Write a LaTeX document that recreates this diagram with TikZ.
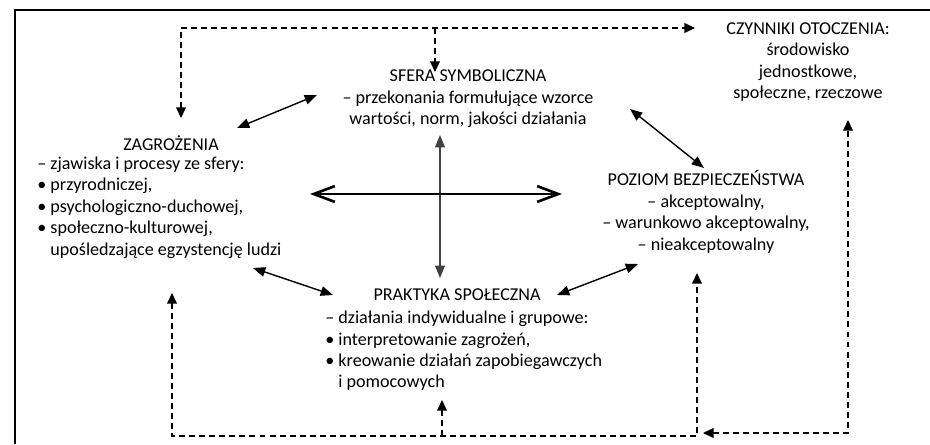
\documentclass[tikz,border=0pt]{standalone}
\usepackage{fontspec}
\setmainfont{Carlito}
\usetikzlibrary{arrows.meta,positioning}
\tikzset{%
  txt/.style={inner sep=0pt,font=\fontsize{10.3}{12.2}\selectfont,align=#1},
  txt/.default=center,
  dashlink/.style={line width=0.8pt,dash pattern=on 3.4pt off 2.3pt,
    -{Triangle[length=6pt,width=5.5pt]}},
  link/.style={line width=0.8pt,
    {Triangle[length=7pt,width=5.5pt]}-{Triangle[length=7pt,width=5.5pt]}},
  crossarrow/.style={line width=1.5pt,
    {Straight Barb[length=12pt,width=9pt]}-{Straight Barb[length=12pt,width=9pt]}}
}
\definecolor{c0}{rgb}{0.25,0.25,0.25}
\newcommand\bul{\textbullet\ }
\newcommand\bulskip{\hphantom{\textbullet\ }}
\begin{document}
\begin{tikzpicture}[x=0.02cm,y=-0.02cm]
  \useasboundingbox (0,0) rectangle (930,444);
  % Frame
  \draw[line width=1.7pt] (15,444) -- (15,10) -- (930,10);
  % Text blocks
  \node[txt] (sfera) at (468,99) {SFERA SYMBOLICZNA\\
    – przekonania formułujące wzorce\\
    wartości, norm, jakości działania};
  \node[txt] (czyn) at (808,62) {CZYNNIKI OTOCZENIA:\\
    środowisko\\
    jednostkowe,\\
    społeczne, rzeczowe};
  \node[txt] (poziom) at (706,212) {POZIOM BEZPIECZEŃSTWA\\
    – akceptowalny,\\
    – warunkowo akceptowalny,\\
    – nieakceptowalny};
  \node[txt] (zagT) at (171,143) {ZAGROŻENIA};
  \node[txt=left,anchor=west] (zagB) at (37,207.5) {– zjawiska i procesy ze sfery:\\
    \bul przyrodniczej,\\
    \bul psychologiczno-duchowej,\\
    \bul społeczno-kulturowej,\\
    \bulskip upośledzające egzystencję ludzi};
  \node[txt] (prakT) at (457,295) {PRAKTYKA SPOŁECZNA};
  \node[txt=left,anchor=west] (prakB) at (325,351) {– działania indywidualne i grupowe:\\
    \bul interpretowanie zagrożeń,\\
    \bul kreowanie działań zapobiegawczych\\
    \bulskip i pomocowych};
  % Ends of the connectors
  \coordinate (t0) at (181,118);
  \coordinate (t1) at (181,28);
  \coordinate (t2) at (435,28);
  \coordinate (t3) at (435,72);
  \coordinate (t4) at (695,28);
  \coordinate (l0) at (172,293);
  \coordinate (l1) at (172,436);
  \coordinate (l2) at (442,436);
  \coordinate (l3) at (442,400);
  \coordinate (l4) at (697,436);
  \coordinate (l5) at (697,273);
  \coordinate (r0) at (703,433);
  \coordinate (r1) at (848,433);
  \coordinate (r2) at (848,120);
  \coordinate (zs0) at (237,128);
  \coordinate (zs1) at (317,95);
  \coordinate (sp0) at (630,109);
  \coordinate (sp1) at (704,168);
  \coordinate (zp0) at (253,268);
  \coordinate (zp1) at (333,295);
  \coordinate (pp0) at (557,295);
  \coordinate (pp1) at (638,264);
  \coordinate (v0) at (440,135);
  \coordinate (v1) at (440,278);
  \coordinate (h0) at (310,194);
  \coordinate (h1) at (562,194);
  % Dashed loops
  \draw[dashlink,{Triangle[length=6pt,width=5.5pt]}-{Triangle[length=6pt,width=5.5pt]}]
    (t0) -- (t1) -- (t4);
  \draw[dashlink] (t2) -- (t3);
  \draw[dashlink,{Triangle[length=6pt,width=5.5pt]}-{Triangle[length=6pt,width=5.5pt]}]
    (l0) -- (l1) -- (l4) -- (l5);
  \draw[dashlink] (l2) -- (l3);
  \draw[dashlink,{Triangle[length=6pt,width=5.5pt]}-{Triangle[length=6pt,width=5.5pt]}]
    (r0) -- (r1) -- (r2);
  % Solid links
  \draw[link] (zs0) -- (zs1);
  \draw[link] (sp0) -- (sp1);
  \draw[link] (zp0) -- (zp1);
  \draw[link] (pp0) -- (pp1);
  \draw[link,c0,line width=1pt] (v0) -- (v1);
  \draw[crossarrow] (h0) -- (h1);
\end{tikzpicture}
\end{document}
